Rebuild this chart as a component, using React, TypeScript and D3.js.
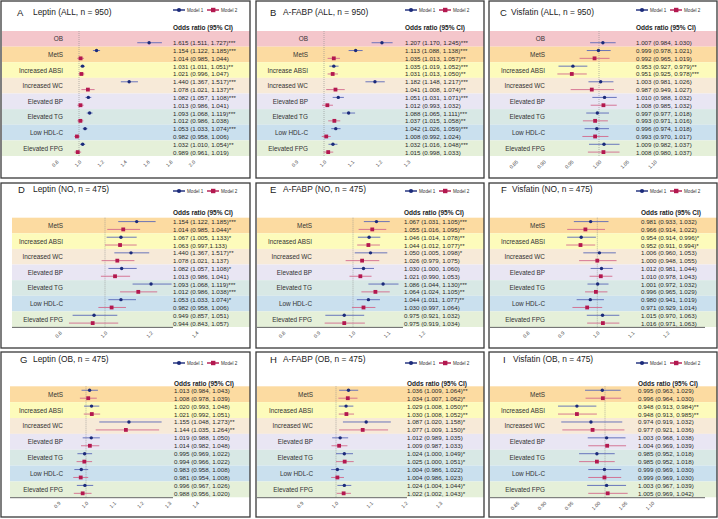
import React from "react";
import * as d3 from "d3";

// ---------- categories ----------
const CATS_ALL = ["OB", "MetS", "Increased ABSI", "Increased WC", "Elevated BP", "Elevated TG", "Low HDL-C", "Elevated FPG"];
const CATS_ALL_B = ["OB", "MetS", "Increase ABSI", "Increased WC", "Elevated BP", "Elevated TG", "Low HDL-C", "Elevated FPG"];
const CATS_SUB = ["MetS", "Increased ABSI", "Increased WC", "Elevated BP", "Elevated TG", "Low HDL-C", "Elevated FPG"];

// ---------- tick values ----------
const TICKS_LEPTIN_ALL = [0.8, 1.0, 1.2, 1.4, 1.6, 1.8, 2.0];
const TICKS_FABP_ALL = [0.9, 1.0, 1.1, 1.2, 1.3];
const TICKS_VISF = [0.85, 0.9, 0.95, 1.0, 1.05, 1.1];
const TICKS_LEPTIN_NO = [0.8, 1.0, 1.2, 1.4];
const TICKS_NO = [0.8, 0.9, 1.0, 1.1, 1.2];
const TICKS_LEPTIN_OB = [0.9, 1.0, 1.1, 1.2, 1.3, 1.4];
const TICKS_FABP_OB = [0.9, 1.0, 1.1, 1.2, 1.3];

// ---------- data: [OR, lower, upper] ----------
type T = [number, number, number];
const A_M1: T[] = [[1.615, 1.511, 1.727], [1.154, 1.122, 1.185], [1.031, 1.011, 1.051], [1.44, 1.367, 1.517], [1.082, 1.057, 1.108], [1.093, 1.068, 1.119], [1.053, 1.033, 1.074], [1.032, 1.01, 1.054]];
const A_M1_SIG = ["***", "***", "**", "***", "***", "***", "***", "**"];
const A_M2: (T | null)[] = [null, [1.014, 0.985, 1.044], [1.021, 0.996, 1.047], [1.078, 1.021, 1.137], [1.013, 0.986, 1.041], [1.012, 0.986, 1.038], [0.982, 0.958, 1.006], [0.989, 0.961, 1.019]];
const A_M2_SIG = ["", "", "", "**", "", "", "", ""];

const B_M1: T[] = [[1.207, 1.17, 1.245], [1.113, 1.088, 1.138], [1.035, 1.019, 1.052], [1.182, 1.148, 1.217], [1.051, 1.031, 1.071], [1.088, 1.065, 1.111], [1.042, 1.026, 1.059], [1.032, 1.016, 1.048]];
const B_M1_SIG = ["***", "***", "***", "***", "***", "***", "***", "***"];
const B_M2: (T | null)[] = [null, [1.035, 1.013, 1.057], [1.031, 1.013, 1.05], [1.041, 1.008, 1.074], [1.012, 0.993, 1.032], [1.037, 1.015, 1.058], [1.008, 0.992, 1.024], [1.015, 0.998, 1.033]];
const B_M2_SIG = ["", "**", "**", "**", "", "**", "", ""];

const C_M1: T[] = [[1.007, 0.984, 1.03], [0.999, 0.978, 1.021], [0.953, 0.927, 0.979], [1.003, 0.981, 1.026], [1.01, 0.988, 1.032], [0.997, 0.977, 1.018], [0.996, 0.974, 1.018], [1.009, 0.982, 1.037]];
const C_M1_SIG = ["", "", "**", "", "", "", "", ""];
const C_M2: (T | null)[] = [null, [0.992, 0.965, 1.019], [0.951, 0.925, 0.978], [0.987, 0.949, 1.027], [1.008, 0.985, 1.032], [0.993, 0.971, 1.016], [0.993, 0.97, 1.017], [1.008, 0.98, 1.037]];
const C_M2_SIG = ["", "", "***", "", "", "", "", ""];

// Panel D: marker positions; printed texts as shown
const D_M1: T[] = [[1.139, 1.058, 1.222], [1.07, 1.007, 1.139], [1.114, 1.041, 1.194], [1.073, 1.015, 1.139], [1.202, 1.121, 1.292], [1.07, 1.015, 1.136], [0.952, 0.858, 1.054]];
const D_M2: T[] = [[1.08, 1.01, 1.154], [1.066, 1.0, 1.139], [1.054, 0.985, 1.129], [1.044, 0.982, 1.11], [1.146, 1.066, 1.229], [1.029, 0.971, 1.092], [0.946, 0.842, 1.058]];
const D_M1_TXT = ["1.154 (1.122, 1.185)***", "1.067 (1.005, 1.133)*", "1.440 (1.367, 1.517)**", "1.082 (1.057, 1.108)*", "1.093 (1.068, 1.119)***", "1.053 (1.033, 1.074)*", "0.949 (0.857, 1.051)"];
const D_M2_TXT = ["1.014 (0.985, 1.044)*", "1.063 (0.997,1.133)", "1.078 (1.021, 1.137)", "1.013 (0.986, 1.041)", "1.012 (0.986, 1.038)***", "0.982 (0.958, 1.006)", "0.944 (0.843, 1.057)"];

const E_M1: T[] = [[1.067, 1.031, 1.105], [1.046, 1.014, 1.078], [1.05, 1.005, 1.098], [1.03, 1.0, 1.06], [1.086, 1.044, 1.13], [1.044, 1.011, 1.077], [0.975, 0.921, 1.032]];
const E_M1_SIG = ["***", "**", "*", "", "***", "**", ""];
const E_M2: T[] = [[1.055, 1.016, 1.095], [1.044, 1.012, 1.077], [1.026, 0.979, 1.075], [1.021, 0.99, 1.053], [1.064, 1.024, 1.105], [1.03, 0.997, 1.064], [0.975, 0.919, 1.034]];
const E_M2_SIG = ["**", "**", "", "", "**", "", ""];

const F_M1: T[] = [[0.981, 0.933, 1.032], [0.954, 0.914, 0.996], [1.006, 0.96, 1.053], [1.012, 0.981, 1.044], [1.001, 0.972, 1.032], [0.98, 0.941, 1.019], [1.015, 0.97, 1.063]];
const F_M1_SIG = ["", "*", "", "", "", "", ""];
const F_M2: T[] = [[0.966, 0.914, 1.022], [0.952, 0.911, 0.994], [1.0, 0.948, 1.055], [1.01, 0.978, 1.043], [0.996, 0.965, 1.029], [0.971, 0.929, 1.014], [1.016, 0.971, 1.063]];
const F_M2_SIG = ["", "*", "", "", "", "", ""];

const G_M1: T[] = [[1.013, 0.984, 1.043], [1.02, 0.993, 1.048], [1.155, 1.048, 1.273], [1.019, 0.988, 1.05], [0.995, 0.969, 1.022], [0.983, 0.958, 1.008], [0.996, 0.967, 1.026]];
const G_M1_SIG = ["", "", "**", "", "", "", ""];
const G_M2: T[] = [[1.008, 0.978, 1.039], [1.021, 0.992, 1.051], [1.144, 1.035, 1.264], [1.014, 0.982, 1.048], [0.994, 0.966, 1.022], [0.981, 0.954, 1.008], [0.988, 0.956, 1.02]];
const G_M2_SIG = ["", "", "**", "", "", "", ""];

const H_M1: T[] = [[1.036, 1.009, 1.064], [1.029, 1.008, 1.05], [1.087, 1.02, 1.158], [1.012, 0.989, 1.035], [1.024, 1.0, 1.049], [1.004, 0.986, 1.022], [1.024, 1.004, 1.044]];
const H_M1_SIG = ["**", "**", "*", "", "*", "", "*"];
const H_M2: T[] = [[1.034, 1.007, 1.062], [1.03, 1.008, 1.052], [1.077, 1.009, 1.15], [1.009, 0.987, 1.033], [1.025, 1.0, 1.051], [1.004, 0.986, 1.023], [1.022, 1.002, 1.043]];
const H_M2_SIG = ["*", "**", "*", "", "*", "", "*"];

const I_M1: T[] = [[0.995, 0.963, 1.029], [0.948, 0.913, 0.984], [0.974, 0.919, 1.032], [1.003, 0.968, 1.038], [0.985, 0.952, 1.018], [0.999, 0.969, 1.03], [1.003, 0.967, 1.039]];
const I_M1_SIG = ["", "**", "", "", "", "", ""];
const I_M2: T[] = [[0.996, 0.964, 1.03], [0.948, 0.913, 0.985], [0.977, 0.921, 1.036], [1.004, 0.969, 1.039], [0.985, 0.952, 1.018], [0.999, 0.969, 1.03], [1.005, 0.969, 1.042]];
const I_M2_SIG = ["", "**", "", "", "", "", ""];

// ---------- styles ----------
const BAND_COLORS: Record<string, string> = {
  "OB": "#f4c6cb",
  "MetS": "#fcdba1",
  "Increased ABSI": "#fdfbbb",
  "Increase ABSI": "#fdfbbb",
  "Increased WC": "#f7ead8",
  "Elevated BP": "#e9e6f3",
  "Elevated TG": "#d8e8e5",
  "Low HDL-C": "#cae0ee",
  "Elevated FPG": "#e5f0d9",
};
const M1_PT = "#1b2a7a";
const M1_LN = "#5a68b8";
const M2_PT = "#b3184f";
const M2_LN = "#d36a8c";
const FONT = "'Liberation Sans', Arial, sans-serif";

const fmt = (t: T, s: string) => `${t[0].toFixed(3)} (${t[1].toFixed(3)}, ${t[2].toFixed(3)})${s}`;

type Cfg = {
  letter: string; title: string;
  box: [number, number, number, number];
  bandX0: number; bandTop: number; bandBottom: number;
  labelX: number; refX: number; ppu: number; ciX: number;
  headerY: number; legendX: number; legendY: number; titleY: number; letterX: number; titleX: number;
  axisEnd: number | null; tickShift: number; tickDigits: number;
  cats: string[]; ticks: number[];
  m1: T[]; m2: (T | null)[]; m1Text: string[]; m2Text: (string | null)[];
};

const mk = (m1: T[], s1: string[], m2: (T | null)[], s2: string[]) => ({
  m1, m2,
  m1Text: m1.map((t, i) => fmt(t, s1[i])),
  m2Text: m2.map((t, i) => (t ? fmt(t, s2[i]) : null)),
});

const ROW1 = { bandTop: 31, bandBottom: 156, headerY: 27, legendY: 10, titleY: 12 };
const ROW2 = { bandTop: 217.7, bandBottom: 327, headerY: 212, legendY: 191, titleY: 189 };
const ROW3 = { bandTop: 386.3, bandBottom: 497.3, headerY: 383, legendY: 363, titleY: 359 };

const PANELS: Cfg[] = [
  { letter: "A", title: "Leptin (ALL, n = 950)", box: [1, 1, 250, 178], ...ROW1, bandX0: 2, labelX: 63, refX: 79, ppu: 114, ciX: 173, legendX: 173, letterX: 17, titleX: 33, axisEnd: null, tickShift: 0, tickDigits: 1, cats: CATS_ALL, ticks: TICKS_LEPTIN_ALL, ...mk(A_M1, A_M1_SIG, A_M2, A_M2_SIG) },
  { letter: "B", title: "A-FABP (ALL, n = 950)", box: [256, 1, 484, 178], ...ROW1, bandX0: 257, labelX: 308, refX: 324, ppu: 280, ciX: 405, legendX: 405, letterX: 270, titleX: 283, axisEnd: null, tickShift: 0, tickDigits: 1, cats: CATS_ALL_B, ticks: TICKS_FABP_ALL, ...mk(B_M1, B_M1_SIG, B_M2, B_M2_SIG) },
  { letter: "C", title: "Visfatin (ALL, n = 950)", box: [489, 1, 717, 178], ...ROW1, bandX0: 490, labelX: 545, refX: 599, ppu: 555, ciX: 636, legendX: 636, letterX: 500, titleX: 511, axisEnd: null, tickShift: 0, tickDigits: 2, cats: CATS_ALL, ticks: TICKS_VISF, ...mk(C_M1, C_M1_SIG, C_M2, C_M2_SIG) },
  { letter: "D", title: "Leptin (NO, n = 475)", box: [1, 183, 250, 348], ...ROW2, bandX0: 12, labelX: 63, refX: 105, ppu: 228, ciX: 173, legendX: 173, letterX: 18, titleX: 33, axisEnd: 173, tickShift: 0, tickDigits: 1, cats: CATS_SUB, ticks: TICKS_LEPTIN_NO, m1: D_M1, m2: D_M2, m1Text: D_M1_TXT, m2Text: D_M2_TXT },
  { letter: "E", title: "A-FABP (NO, n = 475)", box: [256, 183, 484, 348], ...ROW2, bandX0: 257, labelX: 312, refX: 353, ppu: 350, ciX: 404, legendX: 405, letterX: 270, titleX: 283, axisEnd: 403, tickShift: 0, tickDigits: 1, cats: CATS_SUB, ticks: TICKS_NO, ...mk(E_M1, E_M1_SIG, E_M2, E_M2_SIG) },
  { letter: "F", title: "Visfatin (NO, n = 475)", box: [489, 183, 717, 348], ...ROW2, bandX0: 490, labelX: 545, refX: 597.3, ppu: 350, ciX: 641, legendX: 636, letterX: 501, titleX: 512, axisEnd: 705, tickShift: 0, tickDigits: 1, cats: CATS_SUB, ticks: TICKS_NO, ...mk(F_M1, F_M1_SIG, F_M2, F_M2_SIG) },
  { letter: "G", title: "Leptin (OB, n = 475)", box: [1, 352, 250, 517], ...ROW3, bandX0: 10, labelX: 63, refX: 86, ppu: 277, ciX: 174, legendX: 173, letterX: 20, titleX: 33, axisEnd: 173, tickShift: 0, tickDigits: 1, cats: CATS_SUB, ticks: TICKS_LEPTIN_OB, ...mk(G_M1, G_M1_SIG, G_M2, G_M2_SIG) },
  { letter: "H", title: "A-FABP (OB, n = 475)", box: [256, 352, 484, 517], ...ROW3, bandX0: 257, labelX: 313, refX: 336, ppu: 347, ciX: 407, legendX: 405, letterX: 270, titleX: 283, axisEnd: 407, tickShift: 0, tickDigits: 1, cats: CATS_SUB, ticks: TICKS_FABP_OB, ...mk(H_M1, H_M1_SIG, H_M2, H_M2_SIG) },
  { letter: "I", title: "Visfatin (OB, n = 475)", box: [489, 352, 717, 517], ...ROW3, bandX0: 490, labelX: 545, refX: 605, ppu: 540, ciX: 638, legendX: 636, letterX: 503, titleX: 513, axisEnd: 705, tickShift: -7, tickDigits: 2, cats: CATS_SUB, ticks: TICKS_VISF, ...mk(I_M1, I_M1_SIG, I_M2, I_M2_SIG) },
];

function Legend({ x, y }: { x: number; y: number }) {
  return (
    <g fontFamily={FONT} fontSize={4.6} fill="#333">
      <line x1={x} x2={x + 12} y1={y} y2={y} stroke={M1_PT} strokeWidth={1.4} />
      <circle cx={x + 6} cy={y} r={2.1} fill={M1_PT} />
      <text x={x + 14} y={y} dominantBaseline="central">Model 1</text>
      <line x1={x + 34} x2={x + 46} y1={y} y2={y} stroke={M2_PT} strokeWidth={1.4} />
      <rect x={x + 38} y={y - 2.2} width={4.4} height={4.4} fill={M2_PT} />
      <text x={x + 48} y={y} dominantBaseline="central">Model 2</text>
    </g>
  );
}

function Panel({ c }: { c: Cfg }) {
  const x = d3.scaleLinear().domain([1, 2]).range([c.refX, c.refX + c.ppu]);
  const y = d3.scaleBand<string>().domain(c.cats).range([c.bandTop, c.bandBottom]).padding(0);
  const bw = y.bandwidth();
  const [bx0, by0, bx1, by1] = c.box;

  const marks: { t: T; yy: number; m: 1 | 2; txt: string }[] = [];
  c.cats.forEach((cat, i) => {
    const top = y(cat)!;
    const s1 = top + bw * 0.25;
    const s2 = top + bw * 0.75;
    const m2 = c.m2[i];
    if (m2) {
      marks.push({ t: c.m1[i], yy: s1, m: 1, txt: c.m1Text[i] });
      marks.push({ t: m2, yy: s2, m: 2, txt: c.m2Text[i] as string });
    } else {
      marks.push({ t: c.m1[i], yy: s2, m: 1, txt: c.m1Text[i] });
    }
  });

  return (
    <g>
      <rect x={bx0} y={by0} width={bx1 - bx0} height={by1 - by0} fill="#fff" />
      {c.cats.map((cat) => (
        <rect key={cat} x={c.bandX0} y={y(cat)!} width={bx1 - c.bandX0} height={bw} fill={BAND_COLORS[cat]} />
      ))}
      {c.cats.map((cat) => (
        <text key={"l" + cat} x={c.labelX} y={y(cat)! + bw / 2} textAnchor="end" dominantBaseline="central"
          fontFamily={FONT} fontSize={6.4} fill="#333">{cat}</text>
      ))}
      <line x1={x(1)} x2={x(1)} y1={c.bandTop} y2={c.bandBottom} stroke="#8a8a8a" strokeWidth={0.6} strokeDasharray="1,1" />
      {c.axisEnd !== null && (
        <line x1={c.bandX0} x2={c.axisEnd} y1={c.bandBottom + 0.4} y2={c.bandBottom + 0.4} stroke="#555" strokeWidth={0.9} />
      )}
      {marks.map((d, i) => (
        <g key={"m" + i}>
          <line x1={x(d.t[1])} x2={x(d.t[2])} y1={d.yy} y2={d.yy} stroke={d.m === 1 ? M1_LN : M2_LN} strokeWidth={0.9} />
          {d.m === 1 ? (
            <circle cx={x(d.t[0])} cy={d.yy} r={1.7} fill={M1_PT} />
          ) : (
            <rect x={x(d.t[0]) - 1.9} y={d.yy - 1.9} width={3.8} height={3.8} fill={M2_PT} />
          )}
          <text x={c.ciX} y={d.yy} dominantBaseline="central" fontFamily={FONT} fontSize={6.2} fill="#2a2a2a">{d.txt}</text>
        </g>
      ))}
      {c.ticks.map((t) => {
        const tx = x(t) + c.tickShift + 1.5;
        const ty = c.bandBottom + 5;
        return (
          <text key={"t" + t} x={tx} y={ty} transform={`rotate(-45 ${tx} ${ty})`} textAnchor="end" dy="0.35em"
            fontFamily={FONT} fontSize={5} fill="#444">{t.toFixed(c.tickDigits)}</text>
        );
      })}
      <text x={c.ciX} y={c.headerY} dominantBaseline="central" fontFamily={FONT} fontSize={6.5} fontWeight="bold" fill="#222">Odds ratio (95% CI)</text>
      <Legend x={c.legendX} y={c.legendY} />
      <text x={c.letterX} y={c.titleY} dominantBaseline="central" fontFamily={FONT} fontSize={9.5} fill="#222">{c.letter}</text>
      <text x={c.titleX} y={c.titleY} dominantBaseline="central" fontFamily={FONT} fontSize={8.4} fill="#222">{c.title}</text>
      <rect x={bx0} y={by0} width={bx1 - bx0} height={by1 - by0} fill="none" stroke="#3a3a3a" strokeWidth={1.3} />
    </g>
  );
}

export default function App() {
  return (
    <svg width={718} height={519} style={{ position: "absolute", left: 0, top: 0, background: "#fff" }}>
      <rect x={0} y={0} width={718} height={519} fill="#fff" />
      {PANELS.map((c) => (
        <Panel key={c.letter} c={c} />
      ))}
    </svg>
  );
}
